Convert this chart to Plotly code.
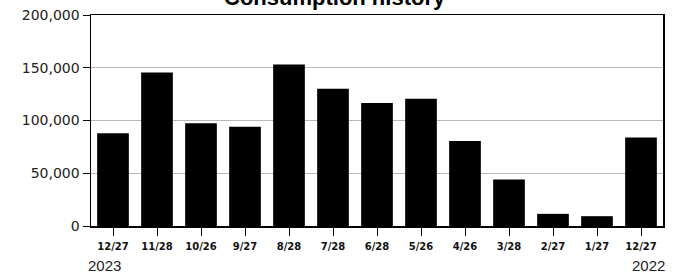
import plotly.graph_objects as go

labels = ["12/27", "11/28", "10/26", "9/27", "8/28", "7/28", "6/28",
          "5/26", "4/26", "3/28", "2/27", "1/27", "12/27"]
values = [88000, 145500, 97500, 94000, 153000, 130000, 116500,
          120500, 80500, 44000, 11500, 9300, 84000]
y_ticks = [0, 50000, 100000, 150000, 200000]
y_tick_text = ["0", "50,000", "100,000", "150,000", "200,000"]
title = "Consumption history"
year_left = "2023"
year_right = "2022"

W, H = 682, 275
L, R, T, B = 91, 19, 15, 49
ph = H - T - B
pw = W - L - R

x = list(range(len(labels)))

fig = go.Figure()
fig.add_trace(go.Bar(x=x, y=values, marker=dict(color="black", line=dict(width=0)),
                     width=0.72, hoverinfo="skip"))

fig.update_layout(
    width=W, height=H,
    margin=dict(l=L, r=R, t=T, b=B, pad=0),
    paper_bgcolor="white", plot_bgcolor="white",
    showlegend=False,
    bargap=0.28,
)
fig.update_xaxes(
    range=[-0.5, len(labels) - 0.5],
    tickmode="array", tickvals=x, ticktext=labels,
    ticks="outside", ticklen=8, tickwidth=1, tickcolor="black",
    ticklabelstandoff=2,
    tickfont=dict(family="DejaVu Sans", size=10, color="#111", weight="bold"),
    showline=True, linecolor="black", linewidth=1.5, mirror=True,
    showgrid=False, zeroline=False, automargin=False,
)
fig.update_yaxes(
    range=[0, 200000],
    tickmode="array", tickvals=y_ticks, ticktext=y_tick_text,
    ticks="outside", ticklen=7, tickwidth=1, tickcolor="black",
    tickfont=dict(family="DejaVu Sans", size=14, color="#222"),
    showline=True, linecolor="black", linewidth=1.5, mirror=True,
    showgrid=True, gridcolor="#b8b8b8", gridwidth=1,
    zeroline=False, automargin=False,
)

fig.add_annotation(text=f"<b>{title}</b>", xref="paper", yref="paper",
                   x=(335 - L) / pw, y=1 + (T + 3) / ph, xanchor="center", yanchor="middle",
                   showarrow=False, font=dict(family="Liberation Sans", size=22, color="black"))
fig.add_annotation(text=year_left, xref="paper", yref="paper",
                   x=(86 - L) / pw, y=-(265 - (H - B)) / ph, xanchor="left", yanchor="middle",
                   showarrow=False, font=dict(family="Liberation Sans", size=15, color="#222"))
fig.add_annotation(text=year_right, xref="paper", yref="paper",
                   x=(667 - L) / pw, y=-(265 - (H - B)) / ph, xanchor="right", yanchor="middle",
                   showarrow=False, font=dict(family="Liberation Sans", size=15, color="#222"))

fig.write_html("out.html", config={"displayModeBar": False, "staticPlot": True},
               post_script="document.body.style.margin='0';document.body.style.padding='0';")
